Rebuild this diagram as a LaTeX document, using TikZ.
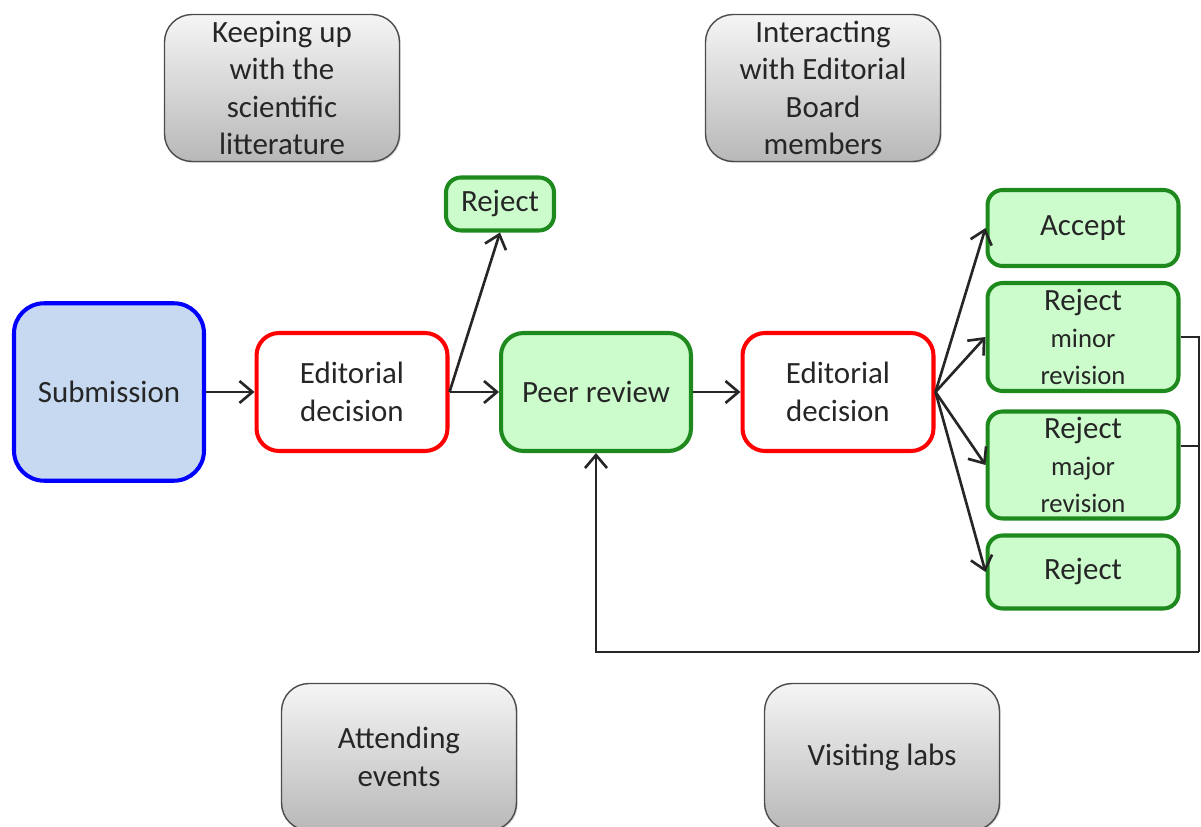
\documentclass[tikz,border=0pt]{standalone}
\usepackage{fontspec}
\setmainfont{Carlito}
\usepackage{tikz}
\usetikzlibrary{arrows.meta, shadows}
\definecolor{subblue}{HTML}{C6D9F1}
\definecolor{subborder}{HTML}{0000FF}
\definecolor{decred}{HTML}{FF0000}
\definecolor{outgreen}{HTML}{CCFCCC}
\definecolor{outborder}{HTML}{1E8A1E}
\definecolor{activtop}{HTML}{F5F5F5}
\definecolor{activbottom}{HTML}{B8B8B8}
\newcommand{\bigfont}{\fontsize{17.6}{21.2}\selectfont}
\newcommand{\revfont}{\fontsize{15.2}{18}\selectfont}
\tikzset{
  basebox/.style={rectangle, align=center, text=black!85, font=\bigfont, inner sep=0pt,
    drop shadow={shadow xshift=0.8pt, shadow yshift=-0.8pt, opacity=0.25}},
  activity/.style={basebox, draw=black!70, line width=0.8pt, top color=activtop,
    bottom color=activbottom, minimum width=4.7cm, minimum height=2.94cm, rounded corners=0.55cm},
  submitbox/.style={basebox, draw=subborder, fill=subblue, line width=2.3pt,
    minimum width=3.8cm, minimum height=3.55cm, rounded corners=0.6cm},
  decisionbox/.style={basebox, draw=decred, fill=white, line width=2.3pt,
    minimum width=3.82cm, minimum height=2.36cm, rounded corners=0.45cm},
  outcome/.style={basebox, draw=outborder, fill=outgreen, line width=2.3pt,
    minimum width=3.82cm, rounded corners=0.3cm},
  flow/.style={draw=black!85, line width=1.5pt, -{Straight Barb[length=2.6mm, width=4.4mm]}},
  loopline/.style={draw=black!85, line width=1.5pt},
}

\begin{document}
\begin{tikzpicture}[x=0.02cm, y=-0.02cm]
    \clip (0,0) rectangle (1201,827);

    % Activities around the process
    \node[activity] (keeping) at (282,88) {Keeping up\\with the\\scientific\\litterature};
    \node[activity] (interacting) at (823,88) {Interacting\\with Editorial\\Board\\members};
    \node[activity] (attending) at (399,757) {Attending\\events};
    \node[activity] (visiting) at (882,757) {Visiting labs};

    % Main flow
    \node[submitbox] (submission) at (109,392) {Submission};
    \node[decisionbox] (edfirst) at (352,392) {Editorial\\decision};
    \node[outcome, minimum width=2.16cm, minimum height=1.06cm] (rejtop) at (500,204) {Reject};
    \node[outcome, minimum width=3.8cm, minimum height=2.36cm, rounded corners=0.45cm] (peer) at (596,392) {Peer review};
    \node[decisionbox] (edsecond) at (838,392) {Editorial\\decision};

    % Outcomes of the second decision
    \node[outcome, minimum height=1.52cm] (accept) at (1083,228) {Accept};
    \node[outcome, minimum height=2.16cm] (minor) at (1083,337) {Reject\\{\revfont minor}\\{\revfont revision}};
    \node[outcome, minimum height=2.14cm] (major) at (1083,465) {Reject\\{\revfont major}\\{\revfont revision}};
    \node[outcome, minimum height=1.46cm] (rejbot) at (1083,572) {Reject};

    \draw[flow] (submission) -- (edfirst);
    \draw[flow] (edfirst.east) -- (rejtop.south);
    \draw[flow] (edfirst) -- (peer);
    \draw[flow] (peer) -- (edsecond);
    \foreach \target in {accept, minor, major, rejbot} {
      \draw[flow] (edsecond.east) -- (\target.west);
    }

    % Back to peer review after a revision
    \coordinate (loopR) at (1199,652);
    \draw[loopline] (minor.east) -| (loopR);
    \draw[loopline] ([yshift=0.38cm]major.east) -- ([yshift=0.38cm]major.east -| loopR);
    \draw[flow] (loopR) -| (peer.south);
\end{tikzpicture}
\end{document}
